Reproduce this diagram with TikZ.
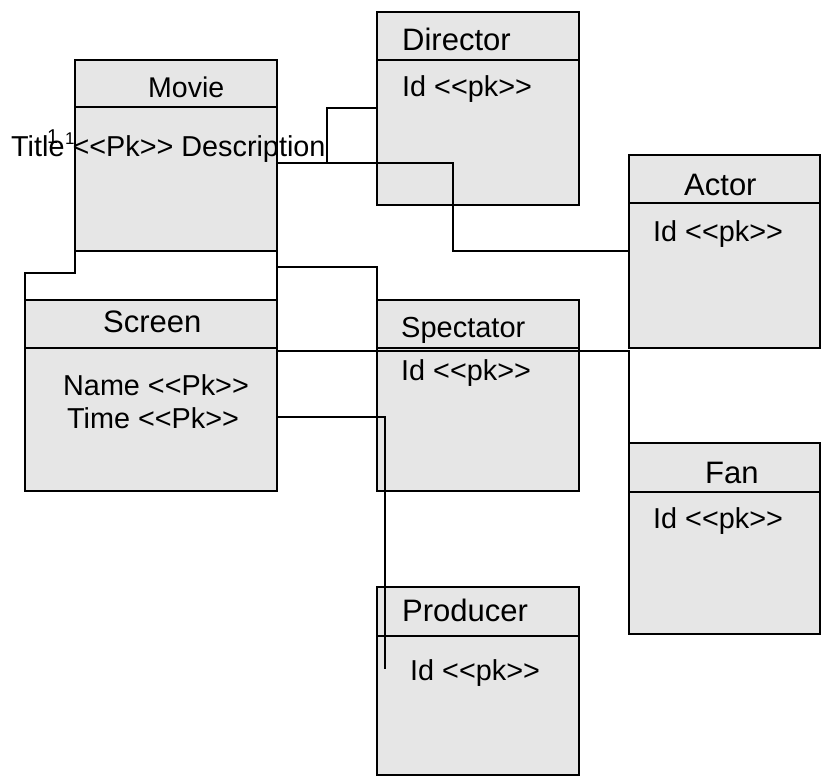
\documentclass[tikz,border=0pt]{standalone}
\usepackage{fontspec}
\newfontfamily\lsans{Liberation Sans}
\definecolor{boxfill}{HTML}{E6E6E6}
\tikzset{
  x=1pt, y=-1pt,
  umlbox/.style={draw=black, fill=boxfill, line width=1.4pt, inner sep=0pt, outer sep=0pt, anchor=north west},
  divider/.style={draw=black, line width=1.4pt},
  conn/.style={draw=black, line width=1.4pt},
  hdr/.style={inner sep=0pt, anchor=base west, font=\lsans\fontsize{31}{36}\selectfont},
  attr/.style={inner sep=0pt, anchor=base west, font=\lsans\fontsize{28.8}{34}\selectfont},
  mult/.style={inner sep=0pt, anchor=base west},
}
\begin{document}
\begin{tikzpicture}
\useasboundingbox (0,0) rectangle (821,776);
% boxes
\node[umlbox, minimum width=202pt, minimum height=191pt] (movie) at (75,60) {};
\node[umlbox, minimum width=202pt, minimum height=193pt] (director) at (377,12) {};
\node[umlbox, minimum width=191pt, minimum height=193pt] (actor) at (629,155) {};
\node[umlbox, minimum width=252pt, minimum height=191pt] (screen) at (25,300) {};
\node[umlbox, minimum width=202pt, minimum height=191pt] (spectator) at (377,300) {};
\node[umlbox, minimum width=191pt, minimum height=191pt] (fan) at (629,443) {};
\node[umlbox, minimum width=202pt, minimum height=188pt] (producer) at (377,587) {};
% dividers
\draw[divider] (movie.north west) ++(0,47) -- ++(202,0);
\draw[divider] (director.north west) ++(0,48) -- ++(202,0);
\draw[divider] (actor.north west) ++(0,48) -- ++(191,0);
\draw[divider] (screen.north west) ++(0,48) -- ++(252,0);
\draw[divider] (spectator.north west) ++(0,48) -- ++(202,0);
\draw[divider] (fan.north west) ++(0,49) -- ++(191,0);
\draw[divider] (producer.north west) ++(0,49) -- ++(202,0);
% helper coordinates
\coordinate (y108) at (0,108);
\coordinate (y163) at (0,163);
\coordinate (y251) at (0,251);
\coordinate (y267) at (0,267);
\coordinate (y351) at (0,351);
\coordinate (y370) at (0,370);
\coordinate (y417) at (0,417);
\coordinate (y537) at (0,537);
\coordinate (bendA) at (327,163);
\coordinate (bendB) at (453,251);
\coordinate (bendC) at (75,273);
\coordinate (pend) at (385,669);
% connectors
\draw[conn] (movie.east |- y163) -- (bendA) |- (director.west |- y108);
\draw[conn] (movie.east |- y163) -| (bendB) -- (actor.west |- y251);
\draw[conn] (movie.south west) -- (bendC) -| (screen.north west);
\draw[conn] (movie.south east) -- (screen.north east);
\draw[conn] (movie.east |- y267) -| (spectator.west |- y370);
\draw[conn] (screen.east |- y351) -| (fan.west |- y537);
\draw[conn] (screen.east |- y417) -| (pend);
% texts
\node[hdr, font=\lsans\fontsize{28.5}{34}\selectfont] (movieT) at (148,97) {Movie};
\node[attr] (movieA) at (11,156) {Title <<Pk>> Description};
\node[mult, font=\lsans\fontsize{20}{24}\selectfont] (mult1) at (47,143) {1};
\node[mult, font=\lsans\fontsize{17}{20}\selectfont] (mult2) at (65,144) {1};
\node[hdr] (directorT) at (402,51) {Director};
\node[attr] (directorA) at (402,96) {Id <<pk>>};
\node[hdr] (actorT) at (684,195) {Actor};
\node[attr] (actorA) at (653,241) {Id <<pk>>};
\node[hdr] (screenT) at (103,332) {Screen};
\node[attr] (screenA) at (63,395) {Name <<Pk>>};
\node[attr] (screenB) at (67,428) {Time <<Pk>>};
\node[hdr, font=\lsans\fontsize{29}{34}\selectfont] (spectatorT) at (401,337) {Spectator};
\node[attr] (spectatorA) at (401,380) {Id <<pk>>};
\node[hdr] (fanT) at (705,483) {Fan};
\node[attr] (fanA) at (653,528) {Id <<pk>>};
\node[hdr] (producerT) at (402,621) {Producer};
\node[attr] (producerA) at (410,680) {Id <<pk>>};
\end{tikzpicture}
\end{document}
